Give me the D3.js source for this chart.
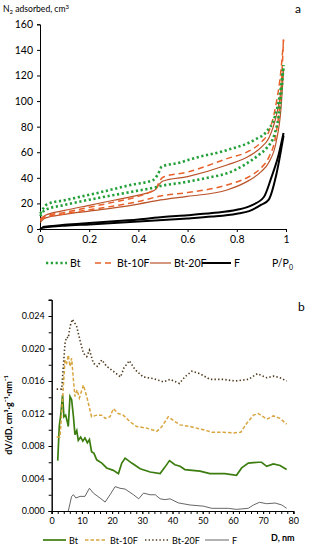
<!DOCTYPE html>
<html><head><meta charset="utf-8">
<script src="https://cdn.jsdelivr.net/npm/d3@7"></script>
<style>
html,body{margin:0;padding:0;background:#fff;}
svg{display:block;font-family:Lato,"Open Sans",sans-serif;}
</style></head>
<body>
<svg id="c" width="310" height="550"></svg>
<script>
// ---------- Chart a: N2 isotherms (P/P0, volume) ----------
const isoSeries = ["Bt", "Bt-10F", "Bt-20F", "F"];
const btAds = [[0.001,10],[0.02,14.8],[0.1,18.8],[0.23,24],[0.37,29],[0.47,32.6],[0.5,34],[0.57,36],[0.69,40.4],[0.76,43.5],[0.83,50],[0.89,58],[0.92,63],[0.955,75],[0.975,95],[0.99,128]];
const btDes = [[0.001,12],[0.03,19.5],[0.1,22.5],[0.23,28],[0.37,34.5],[0.46,38.3],[0.48,43],[0.495,48.7],[0.57,52],[0.62,55],[0.76,61.7],[0.87,69.5],[0.92,76],[0.955,88],[0.975,105],[0.99,128]];
const bt10Ads = [[0.001,6.5],[0.02,9],[0.1,12],[0.2,15],[0.3,18],[0.4,21.5],[0.49,25.8],[0.6,28.5],[0.76,34.4],[0.85,41],[0.9,48],[0.93,56],[0.96,75],[0.98,110],[0.99,148]];
const bt10Des = [[0.001,8],[0.02,10],[0.1,13],[0.2,17],[0.3,21],[0.4,25.5],[0.45,29],[0.47,31],[0.485,37],[0.5,40.5],[0.6,44.5],[0.76,55],[0.85,61],[0.9,68],[0.93,76],[0.96,98],[0.98,125],[0.99,148]];
const bt20Ads = [[0.001,5],[0.02,8.5],[0.1,11.5],[0.2,14],[0.3,16.5],[0.4,19.5],[0.49,22.7],[0.6,25.5],[0.76,30.5],[0.85,38],[0.9,45],[0.93,52],[0.96,68],[0.98,95],[0.99,125]];
const bt20Des = [[0.001,7],[0.02,10.5],[0.1,14.5],[0.2,18.5],[0.3,22.5],[0.4,26.5],[0.45,29],[0.47,31],[0.485,35],[0.5,37.5],[0.6,41],[0.76,50],[0.85,57],[0.9,64],[0.93,71],[0.96,88],[0.98,108],[0.99,125]];
const fAds = [[0,0],[0.01,1],[0.05,1.9],[0.1,2.6],[0.2,3.6],[0.3,4.6],[0.4,5.8],[0.5,7],[0.6,8.2],[0.7,9.7],[0.8,12],[0.85,14],[0.9,19],[0.93,23],[0.96,42],[0.99,73]];
const fDes = [[0.01,1.5],[0.1,3.3],[0.2,4.7],[0.3,6],[0.4,7.5],[0.5,9.4],[0.6,10.8],[0.7,12.5],[0.8,15],[0.86,18.5],[0.91,25],[0.94,40],[0.97,58],[0.99,75]];
const isoXTicks = [0, 0.2, 0.4, 0.6, 0.8, 1];
const isoYTicks = [0, 20, 40, 60, 80, 100, 120, 140, 160];

// ---------- Chart b: pore size distribution (D nm, dV/dD) ----------
const psdSeries = ["Bt", "Bt-10F", "Bt-20F", "F"];
const psdBt = [[2,0.0062],[2.5,0.0104],[3.05,0.012],[3.6,0.0143],[4.05,0.0116],[4.6,0.0118],[5.15,0.011],[5.5,0.0104],[6.06,0.0141],[6.6,0.0137],[7.2,0.0116],[7.7,0.0094],[8.3,0.0099],[8.8,0.0087],[9.6,0.0091],[10.3,0.0086],[11,0.009],[11.8,0.0084],[12.5,0.0088],[13.2,0.0073],[14,0.0071],[14.9,0.0063],[16.6,0.0059],[18.2,0.0053],[20.4,0.005],[22.1,0.0046],[23.2,0.0059],[24.3,0.0065],[26.5,0.0059],[29.3,0.0052],[32.6,0.0048],[35.9,0.0046],[37.5,0.0054],[39,0.0062],[40.8,0.0057],[42.5,0.0055],[44.1,0.0051],[49.1,0.0049],[52.4,0.0046],[57.3,0.0046],[61.2,0.0044],[62.9,0.0053],[65.1,0.0059],[68.4,0.006],[69.5,0.006],[71.2,0.0055],[73.4,0.0058],[75.6,0.0056],[77.8,0.0051]];
const psdBt10 = [[1.65,0.0091],[2.75,0.0091],[3.3,0.012],[3.85,0.0153],[4.4,0.0186],[4.96,0.0182],[5.5,0.0192],[6.06,0.0178],[6.6,0.0188],[7.2,0.0161],[7.7,0.0141],[8.4,0.0149],[9.15,0.0139],[10.5,0.0155],[11.6,0.0141],[13.2,0.0116],[14.9,0.0118],[16.6,0.0118],[17.7,0.0114],[19.3,0.0116],[20.4,0.0126],[22,0.012],[23.7,0.0118],[25.9,0.011],[28.1,0.0104],[31.5,0.0102],[34.8,0.0098],[36.5,0.0104],[38.6,0.0116],[40.8,0.011],[42.5,0.0106],[45.8,0.0104],[50.2,0.01],[53,0.0097],[56.8,0.0097],[60.1,0.0096],[62.6,0.0097],[64.6,0.0108],[66.8,0.0118],[68.4,0.012],[71.2,0.0113],[73.4,0.0117],[75.6,0.0114],[77.8,0.0107]];
const psdBt20 = [[1.65,0.015],[3.3,0.015],[3.85,0.0178],[4.4,0.0206],[4.9,0.0214],[5.5,0.0213],[6.06,0.0227],[6.83,0.0236],[7.7,0.0231],[8.27,0.0227],[9.37,0.021],[10.5,0.0194],[11.6,0.019],[12.5,0.0198],[13.8,0.0182],[15.1,0.0178],[16.6,0.0186],[18.2,0.0178],[20.4,0.0172],[22.8,0.0165],[23.9,0.0176],[25.7,0.0185],[27.6,0.0174],[30.3,0.0165],[33.6,0.0163],[37,0.0159],[39.2,0.0162],[42.3,0.0157],[44.1,0.0165],[46.4,0.0172],[49.1,0.0169],[52.4,0.0162],[56.8,0.0162],[60.7,0.016],[65.1,0.0162],[68.1,0.0169],[71.2,0.0164],[73.6,0.0166],[75.6,0.0164],[77.8,0.016]];
const psdF = [[5.5,0],[6.6,0.0018],[7.2,0.002],[8,0.0016],[9.4,0.0018],[11,0.0018],[12.5,0.0028],[13.8,0.0022],[16,0.0016],[17.7,0.0011],[19.3,0.002],[21,0.003],[22.6,0.0028],[24.3,0.0027],[27.1,0.002],[28.8,0.0015],[30.4,0.0022],[32.6,0.002],[34.3,0.002],[35.9,0.0015],[37.5,0.0014],[39.2,0.0015],[41.9,0.001],[45.8,0.00074],[50.2,0.0006],[53,0.00033],[58.5,0.00033],[61.2,0.0002],[65.1,0.00033],[66.8,0.00074],[68.8,0.00107],[71.2,0.0009],[74,0.00098],[76.2,0.00074],[77.8,0.00033]];
const psdXTicks = [0, 10, 20, 30, 40, 50, 60, 70, 80];
const psdYTicks = [0, 0.004, 0.008, 0.012, 0.016, 0.020, 0.024];

const svg = d3.select("#c");

// ===== chart a =====
const xa = d3.scaleLinear().domain([0, 1]).range([40, 286]);
const ya = d3.scaleLinear().domain([0, 160]).range([229, 24.3]);
const ga = svg.append("g");
ga.append("g").attr("transform", `translate(0,${ya(0)})`)
  .call(d3.axisBottom(xa).tickValues(isoXTicks).tickSize(3).tickPadding(4).tickFormat(d => d === 0 || d === 1 ? d3.format("d")(d) : d3.format(".1f")(d)));
ga.append("g").attr("transform", `translate(${xa(0)},0)`)
  .call(d3.axisLeft(ya).tickValues(isoYTicks).tickSize(3).tickPadding(4));
ga.selectAll(".domain, .tick line").attr("stroke", "#000").attr("stroke-width", 1);
ga.selectAll(".tick text").attr("font-size", "10.5px").attr("fill", "#000").attr("font-family", "Lato, sans-serif");

const lineA = d3.line().x(d => xa(d[0])).y(d => ya(d[1])).curve(d3.curveMonotoneX);
const isoStyle = {
  "Bt":     {c: "#23a038", w: 2.6, dash: "2.2,2.6"},
  "Bt-10F": {c: "#e8602a", w: 1.5, dash: "6,4"},
  "Bt-20F": {c: "#b9532a", w: 1.2, dash: null},
  "F":      {c: "#000000", w: 2.0, dash: null}
};
const isoData = {"Bt": [btAds, btDes], "Bt-10F": [bt10Ads, bt10Des], "Bt-20F": [bt20Ads, bt20Des], "F": [fAds, fDes]};
["F", "Bt-20F", "Bt-10F", "Bt"].forEach(k => {
  const s = isoStyle[k];
  isoData[k].forEach(arr => {
    ga.append("path").attr("d", lineA(arr)).attr("fill", "none")
      .attr("stroke", s.c).attr("stroke-width", s.w).attr("stroke-dasharray", s.dash);
  });
});

// axis titles
const t1 = ga.append("text").attr("x", 3).attr("y", 12).attr("font-size", "8.6px").attr("fill", "#000");
t1.append("tspan").text("N");
t1.append("tspan").attr("font-size", "6px").attr("dy", 2.2).text("2");
t1.append("tspan").attr("dy", -2.2).text(" adsorbed, cm");
t1.append("tspan").attr("font-size", "6px").attr("dy", -3.5).text("3");
ga.append("text").attr("x", 295).attr("y", 13).attr("font-size", "12px").text("a");
const t2 = ga.append("text").attr("x", 272).attr("y", 267).attr("font-size", "10.5px");
t2.append("tspan").text("P/P");
t2.append("tspan").attr("font-size", "7px").attr("dy", 3).text("0");

// legend a
const legA = [[46, 70], [95, 117], [150, 174], [202, 234]];
isoSeries.forEach((k, i) => {
  const s = isoStyle[k];
  ga.append("line").attr("x1", legA[i][0]).attr("x2", legA[i][1] - 3).attr("y1", 263).attr("y2", 263)
    .attr("stroke", s.c).attr("stroke-width", s.w).attr("stroke-dasharray", s.dash);
  ga.append("text").attr("x", legA[i][1]).attr("y", 267).attr("font-size", "10.5px").text(k);
});

// ===== chart b =====
const xb = d3.scaleLinear().domain([0, 80]).range([51.7, 293.3]);
const yb = d3.scaleLinear().domain([0, 0.026]).range([511, 299.75]);
const gb = svg.append("g");
gb.append("g").attr("transform", `translate(0,${yb(0)})`)
  .call(d3.axisBottom(xb).tickValues(psdXTicks).tickSize(3).tickPadding(4).tickFormat(d3.format("d")));
gb.append("g").attr("transform", `translate(0,${yb(0)})`)
  .call(d3.axisBottom(xb).tickValues(d3.range(0, 81, 2)).tickSize(3).tickFormat(""));
gb.append("g").attr("transform", `translate(${xb(0)},0)`)
  .call(d3.axisLeft(yb).tickValues(psdYTicks).tickSize(3).tickPadding(4).tickFormat(d3.format(".3f")));
gb.append("g").attr("transform", `translate(${xb(0)},0)`)
  .call(d3.axisLeft(yb).tickValues(d3.range(0, 0.0261, 0.002)).tickSize(3).tickFormat(""));
gb.selectAll(".domain, .tick line").attr("stroke", "#000").attr("stroke-width", 1);
gb.selectAll(".tick text").attr("font-size", "9px").attr("fill", "#000").attr("font-family", "Lato, sans-serif");

const lineB = d3.line().x(d => xb(d[0])).y(d => yb(d[1]));
const psdStyle = {
  "Bt":     {c: "#3c7d10", w: 1.7, dash: null},
  "Bt-10F": {c: "#d8a53e", w: 1.5, dash: "3.5,2"},
  "Bt-20F": {c: "#4e3a1c", w: 1.6, dash: "1.4,2.2"},
  "F":      {c: "#555555", w: 0.9, dash: null}
};
const psdData = {"Bt": psdBt, "Bt-10F": psdBt10, "Bt-20F": psdBt20, "F": psdF};
psdSeries.forEach(k => {
  const s = psdStyle[k];
  gb.append("path").attr("d", lineB(psdData[k])).attr("fill", "none")
    .attr("stroke", s.c).attr("stroke-width", s.w).attr("stroke-dasharray", s.dash);
});

gb.append("text").attr("x", 298).attr("y", 311).attr("font-size", "12px").text("b");
gb.append("text").attr("x", 271).attr("y", 541).attr("font-size", "9px").attr("font-weight", "bold").text("D, nm");
const t3 = gb.append("text").attr("transform", "translate(12,415) rotate(-90)").attr("text-anchor", "middle")
  .attr("font-size", "9px").attr("font-weight", "bold");
t3.text("dV/dD, cm³·g⁻¹·nm⁻¹");

const legB = [[43, 69], [85, 110], [145, 172], [205, 232]];
psdSeries.forEach((k, i) => {
  const s = psdStyle[k];
  gb.append("line").attr("x1", legB[i][0]).attr("x2", legB[i][1] - 3).attr("y1", 540).attr("y2", 540)
    .attr("stroke", s.c).attr("stroke-width", s.w).attr("stroke-dasharray", s.dash);
  gb.append("text").attr("x", legB[i][1]).attr("y", 543.5).attr("font-size", "9px").text(k);
});
</script>
</body></html>
